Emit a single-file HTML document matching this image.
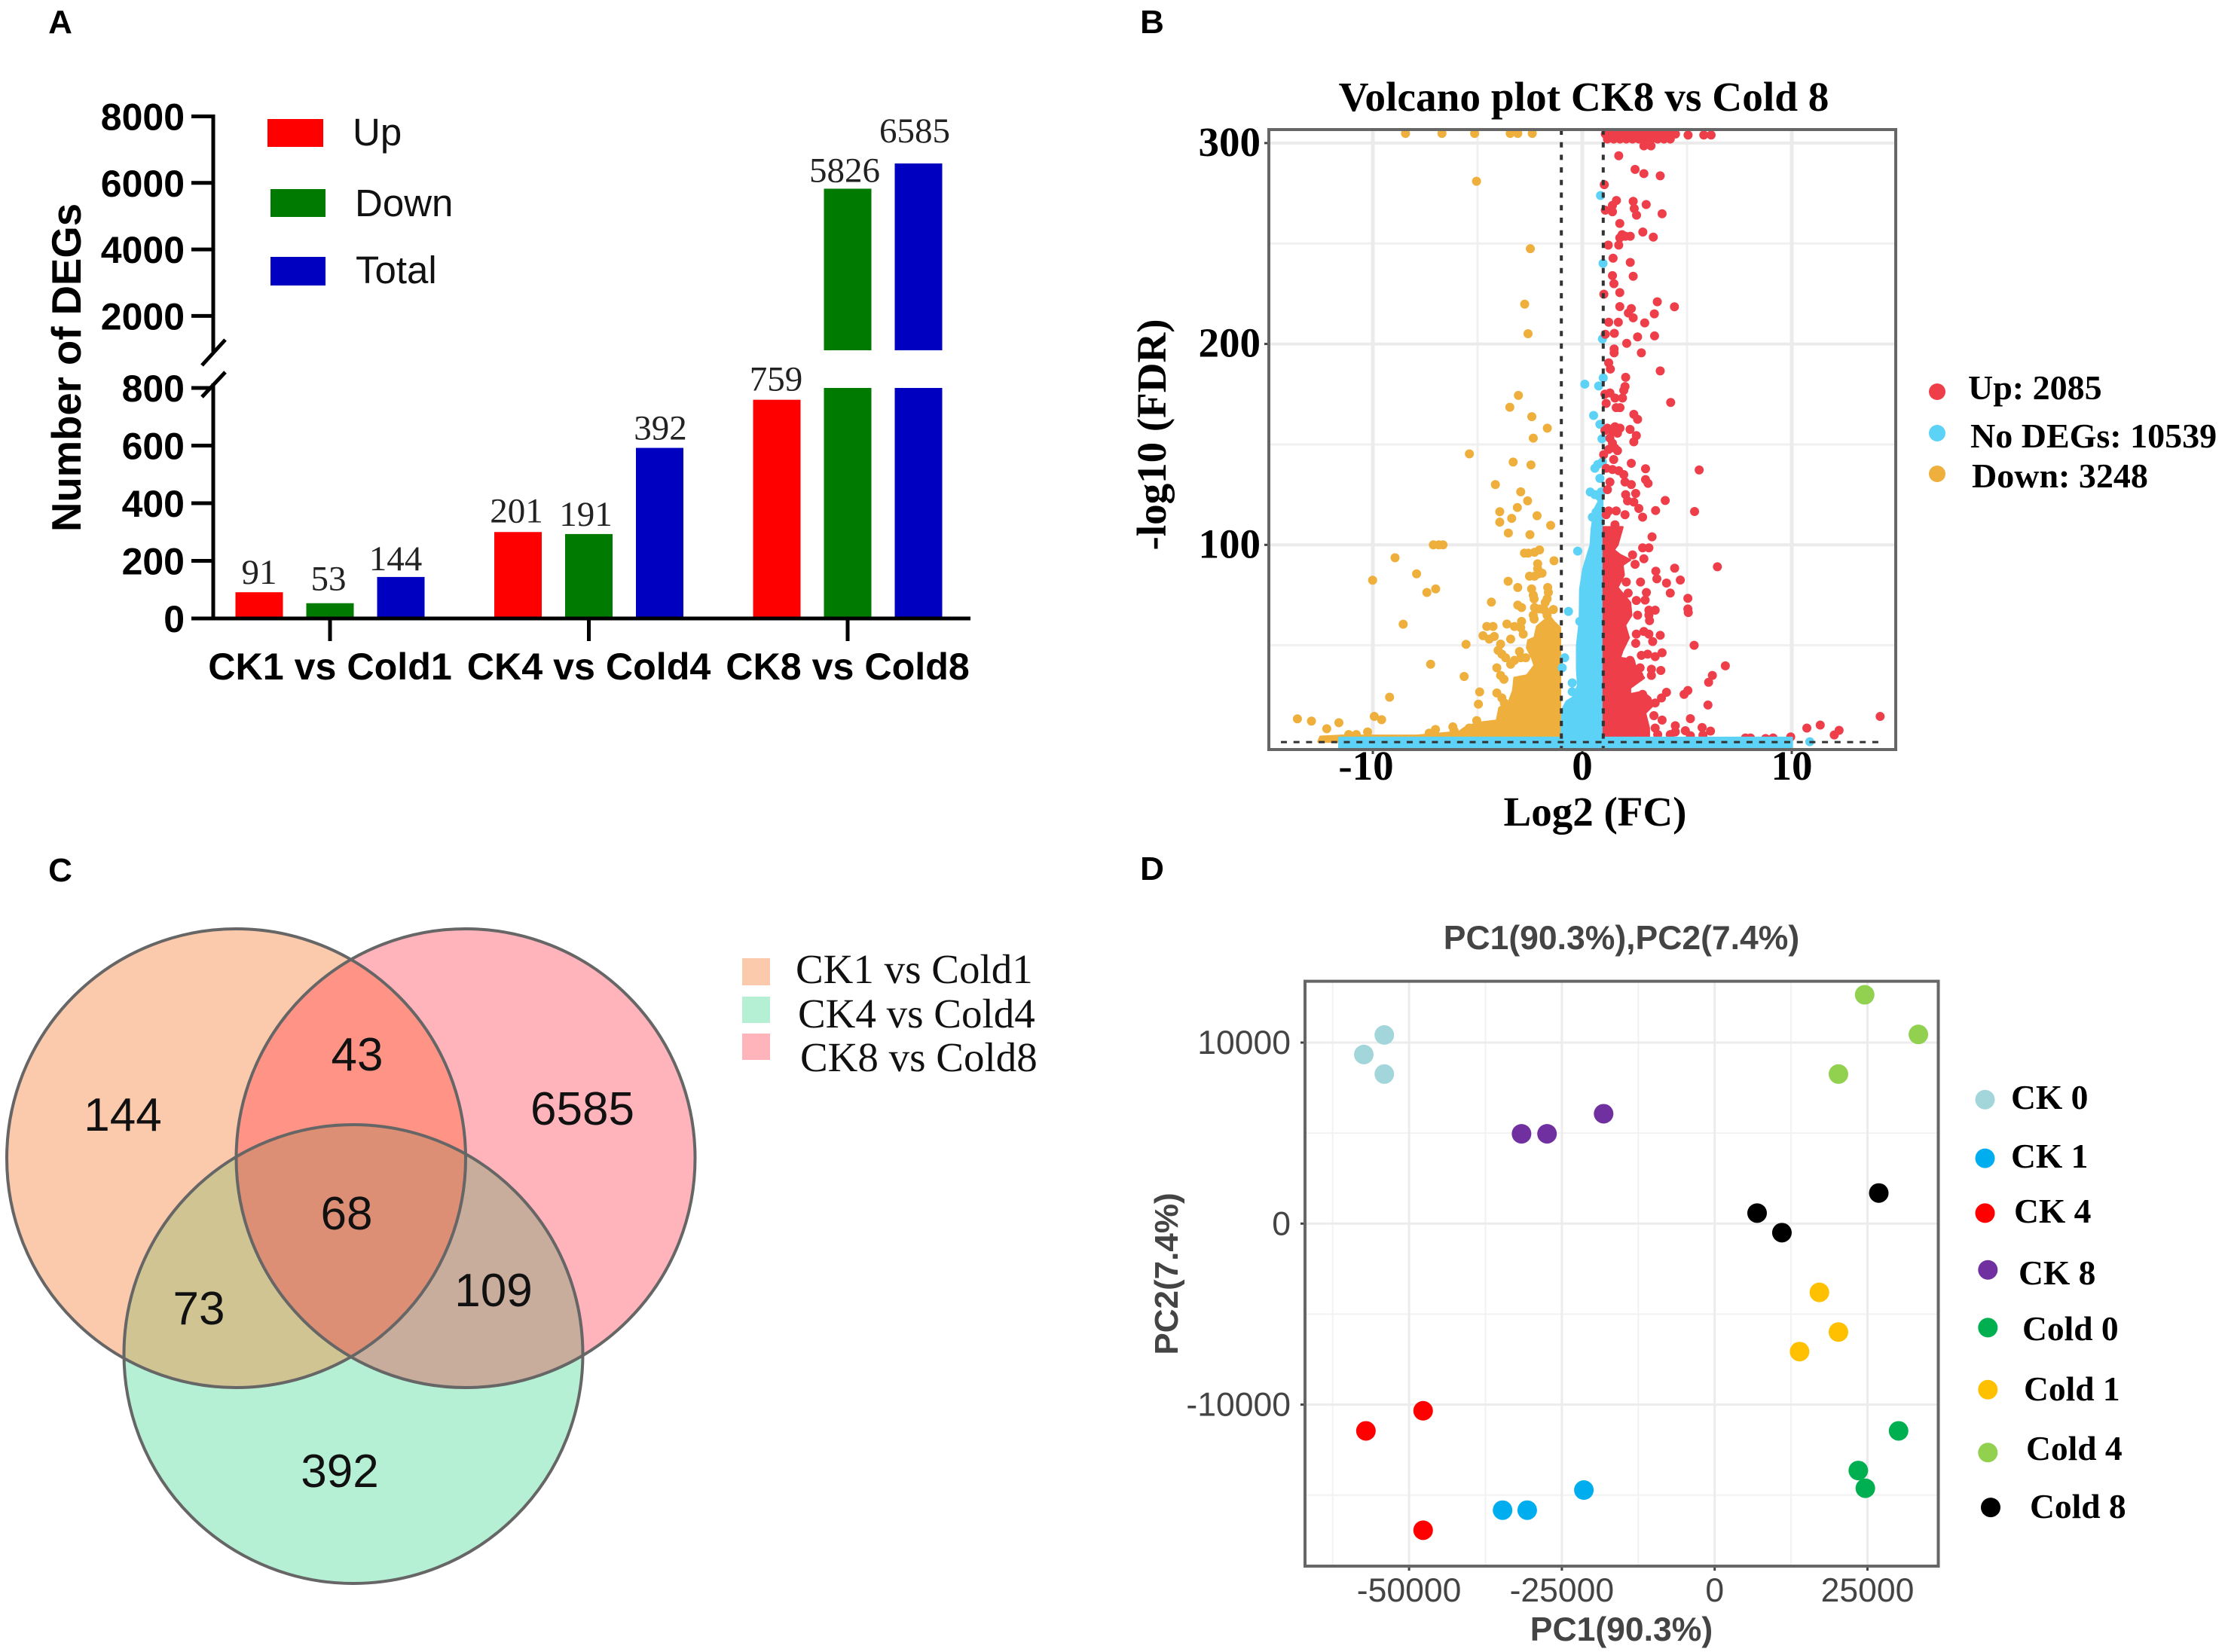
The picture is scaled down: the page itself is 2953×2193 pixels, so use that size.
<!DOCTYPE html>
<html lang="en">
<head>
<meta charset="utf-8">
<title>DEG analysis figure</title>
<style>
html,body{margin:0;padding:0;background:#fff;}
svg{display:block;}
.sans{font-family:"Liberation Sans",sans-serif;}
.serif{font-family:"Liberation Serif",serif;}
.panel-letter{font-family:"Liberation Sans",sans-serif;font-weight:700;font-size:44px;fill:#000;text-anchor:middle;}
</style>
</head>
<body>
<svg id="fig" xmlns="http://www.w3.org/2000/svg" width="2953" height="2193" viewBox="0 0 2953 2193">
  <defs>
    <clipPath id="clip-volcano"><rect x="1684" y="172" width="832" height="823"/></clipPath>
    <clipPath id="clip-v1"><circle cx="313.5" cy="1537.5" r="304.5"/></clipPath>
    <clipPath id="clip-v2"><circle cx="618" cy="1537.5" r="304.5"/></clipPath>
  </defs>
  <rect x="0" y="0" width="2953" height="2193" fill="#fff"/>

  <text class="panel-letter" x="80" y="44">A</text>
  <text class="panel-letter" x="1529" y="44">B</text>
  <text class="panel-letter" x="80" y="1170">C</text>
  <text class="panel-letter" x="1529" y="1168">D</text>

  <!-- Panel A -->
  <g id="panel-a"></g>
  <text class="sans" transform="translate(107,488) rotate(-90)" text-anchor="middle" font-size="54.5" font-weight="700">Number of DEGs</text>
  <rect x="355" y="158" width="74" height="37" fill="#fe0000"/>
  <text class="sans" x="468" y="193" font-size="51" fill="#111">Up</text>
  <rect x="359" y="251" width="73" height="37" fill="#007a00"/>
  <text class="sans" x="471" y="287" font-size="51" fill="#111">Down</text>
  <rect x="359" y="341" width="73" height="38" fill="#0000c0"/>
  <text class="sans" x="472" y="376" font-size="51" fill="#111">Total</text>

  <!-- Panel B -->
  <g id="panel-b"></g>
  <text class="serif" x="2102" y="147" text-anchor="middle" font-size="55.3" font-weight="700">Volcano plot CK8 vs Cold 8</text>
  <text class="serif" x="2117" y="1096" text-anchor="middle" font-size="55" font-weight="700">Log2 (FC)</text>
  <text class="serif" transform="translate(1547,577) rotate(-90)" text-anchor="middle" font-size="55" font-weight="700">-log10 (FDR)</text>
  <ellipse cx="2571" cy="520" rx="11" ry="11" fill="#ee3e4a"/>
  <text class="serif" x="2612" y="530" font-size="46" font-weight="700">Up: 2085</text>
  <ellipse cx="2571" cy="575" rx="11" ry="11" fill="#5cd2f6"/>
  <text class="serif" x="2615" y="594" font-size="46" font-weight="700">No DEGs: 10539</text>
  <ellipse cx="2571" cy="629" rx="11" ry="11" fill="#eeaf3c"/>
  <text class="serif" x="2617" y="647" font-size="46" font-weight="700">Down: 3248</text>

  <!-- Panel C -->
  <g>
    <circle cx="313.5" cy="1537.5" r="304.5" fill="#fbc9ac"/>
    <circle cx="618" cy="1537.5" r="304.5" fill="#ffb3bb"/>
    <circle cx="469" cy="1797.5" r="304.5" fill="#b5f0d5"/>
    <circle cx="618" cy="1537.5" r="304.5" fill="#ff9486" clip-path="url(#clip-v1)"/>
    <circle cx="469" cy="1797.5" r="304.5" fill="#cfc492" clip-path="url(#clip-v1)"/>
    <circle cx="469" cy="1797.5" r="304.5" fill="#c8ac9c" clip-path="url(#clip-v2)"/>
    <g clip-path="url(#clip-v1)"><circle cx="469" cy="1797.5" r="304.5" fill="#dc8f74" clip-path="url(#clip-v2)"/></g>
    <g fill="none" stroke="#666" stroke-width="4">
      <circle cx="313.5" cy="1537.5" r="304.5"/>
      <circle cx="618" cy="1537.5" r="304.5"/>
      <circle cx="469" cy="1797.5" r="304.5"/>
    </g>
    <g class="sans" font-size="62" text-anchor="middle" fill="#111">
      <text x="163" y="1501">144</text>
      <text x="474" y="1421">43</text>
      <text x="773" y="1493">6585</text>
      <text x="460" y="1632">68</text>
      <text x="264" y="1758">73</text>
      <text x="655" y="1734">109</text>
      <text x="451" y="1974">392</text>
    </g>
    <rect x="985" y="1272" width="37" height="36" fill="#fbc9ac"/>
    <text class="serif" x="1056" y="1305" font-size="55" fill="#111">CK1 vs Cold1</text>
    <rect x="985" y="1323" width="37" height="35" fill="#b5f0d5"/>
    <text class="serif" x="1059" y="1364" font-size="55" fill="#111">CK4 vs Cold4</text>
    <rect x="985" y="1372" width="37" height="35" fill="#ffb3bb"/>
    <text class="serif" x="1062" y="1422" font-size="55" fill="#111">CK8 vs Cold8</text>
  </g>

  <!-- Panel D -->
  <g id="panel-d"></g>
  <text class="sans" x="2152" y="1260" text-anchor="middle" font-size="44.5" font-weight="700" fill="#444">PC1(90.3%),PC2(7.4%)</text>
  <text class="sans" x="2152" y="2178" text-anchor="middle" font-size="44.5" font-weight="700" fill="#444">PC1(90.3%)</text>
  <text class="sans" transform="translate(1563,1691) rotate(-90)" text-anchor="middle" font-size="44" font-weight="700" fill="#444">PC2(7.4%)</text>
</svg>

<script>
/* ---------- Panel A data ---------- */
const barCategories = ['CK1 vs Cold1', 'CK4 vs Cold4', 'CK8 vs Cold8'];
const upValues = [91, 300, 759];
const downValues = [53, 293, 5826];
const totalValues = [144, 592, 6585];
const upLabels = ['91', '201', '759'];
const downLabels = ['53', '191', '5826'];
const totalLabels = ['144', '392', '6585'];
const lowerTicks = [0, 200, 400, 600, 800];
const upperTicks = [2000, 4000, 6000, 8000];

/* ---------- Panel B data ---------- */
const volcanoXTicks = [-10, 0, 10];
const volcanoYTicks = [100, 200, 300];
const volcanoXMinor = [-5, 5];
const volcanoYMinor = [50, 150, 250];
const foldThreshold = [-1, 1];
const fdrThreshold = [2];
const downDense = [[-1.06,58.8],[-1.32,61.3],[-1.56,64.4],[-1.8,62.5],[-2.16,59.4],[-2.28,53.8],[-2.58,52.5],[-2.64,48.8],[-2.4,43.8],[-2.28,40],[-2.64,35],[-3.24,33.8],[-3.3,27.5],[-3.48,22.5],[-3.96,18.8],[-4.08,12.5],[-5.04,11.3],[-5.64,8.8],[-5.88,6.9],[-7.91,5],[-11.51,5],[-12.5,4.5],[-12.6,2],[-1.06,2]];
const noDegDense = [[0.96,125],[0.6,118],[0.45,108],[0.4,100],[0.05,88],[-0.1,78],[-0.12,62],[-0.25,50],[-0.25,38],[-0.2,30],[-0.45,24],[-0.75,22],[-0.95,18],[-1,3],[0.96,3]];
const noDegShelf = [[-11.6,4],[10,4],[10,-0.8],[-11.6,-0.8]];
const upDense = [[1.02,108.8],[1.92,108.8],[1.68,100],[1.5,97.5],[1.8,95],[2.28,92.5],[1.92,90],[1.98,85],[1.68,78.8],[2.28,71.3],[2.34,65],[2.04,60],[2.22,53.8],[1.92,47.5],[1.8,43.8],[2.46,42.5],[2.52,40],[2.94,33.8],[2.28,28.8],[2.28,25.6],[2.88,26.9],[3.24,23.8],[3.36,20],[3,16.3],[3.18,8.8],[3.18,4],[1.02,4]];
const downPoints = [
[-8.44,304.8],[-6.7,304.8],[-5.14,304.8],[-3.44,304.8],[-3.08,304.8],[-2.39,304.8],[-5.05,281],[-2.48,247.4],[-2.75,219.8],[-2.59,205.1],
[-3.05,174.4],[-3.46,168.5],[-2.41,163.8],[-1.67,158.1],[-2.34,153.1],[-5.39,145.3],[-3.3,141.2],[-2.45,139.8],[-4.15,130],[-2.94,126.4],
[-2.61,121.9],[-3.1,118.6],[-3.94,116.5],[-3.37,113.2],[-2.16,114.5],[-3.94,111.3],[-1.51,109.7],[-3.53,105.9],[-2.5,105.1],[-7.11,100],[-6.85,100],[-6.65,100],
[-8.94,93.6],[-7.91,85.6],[-10.01,82.4],[-7,78.1],[-7.42,76.3],[-8.55,60.5],[-7.24,40.6],[-5.64,34.5],[-5.55,50.5],
[-4.9,26.8],[-4.96,20.7],[-9.2,24.2],[-9.93,14.6],[-9.58,13],[-13.6,13.4],[-12.93,12.3],[-11.62,11.5],[-12.2,8.5],
[-2.04,97.5],[-2.28,96.3],[-2.58,95.9],[-2.76,95.9],[-1.35,92.1],[-2.13,90.6],[-2.13,88.1],[-2.1,85.6],[-2.28,84.4],[-2.52,84.4],[-1.92,85.9],
[-3.54,81.9],[-3.08,78.8],[-2.42,78.1],[-2.34,75],[-2.3,73.1],[-1.65,78.8],[-1.62,76.3],[-1.68,73.1],[-1.77,71.3],[-4.34,71.5],[-3.08,70],[-2.9,68.8],
[-2.28,68.8],[-2.04,68.1],[-1.8,67.5],[-1.38,67.8],[-2.34,65],[-2.3,63.1],[-1.68,65],[-3.6,60.6],[-3.24,59.4],[-2.9,61.9],[-2.94,58.8],[-2.82,55.6],
[-4.56,59.4],[-4.26,59.4],[-4.74,54.8],[-4.44,53.1],[-4.2,54.4],[-3.42,53.1],[-3.9,50.6],[-4.02,47.5],[-3.84,45.6],[-3.66,43.8],[-3.42,40.6],[-3.24,42.5],
[-3,46.9],[-2.94,43.8],[-2.7,43.8],[-4.08,38.8],[-3.9,35],[-3.74,33.1],[-4.08,26.3],[-3.84,23.8],[-3.72,21.3],[-5.04,12.5],[-6.18,9.4],[-7.01,8.1],[-7.31,6.3],
[-6.12,7.5],[-5.4,8.8],[-10.25,6.9],[-10.79,5.6],[-11.15,5.6]
];
const noDegPoints = [
[0.87,273.9],[0.99,240.1],[0.96,202.5],[1,183.1],[0.12,180],[0.78,179.1],[0.54,164.4],[0.84,160],[0.94,152.8],[0.74,140],[0.6,138.1],[0.96,141.3],[0.84,133.1],
[0.38,126.3],[0.6,125],[0.84,123.8],[0.9,126.3],[0.66,116.3],[0.48,113.8],[0.72,110],[0.96,116.3],
[-0.22,96.9],[-0.66,66.9],[-0.12,61.9],[-0.84,43.8],[-0.96,38.8],[-0.48,31.3],[-0.48,26.9],[10.86,2]
];
const upPoints = [
[1.1,304.5],[1.3,304.5],[1.5,304.5],[1.7,304.5],[1.9,304.5],[2.1,304.5],[2.3,304.5],[2.5,304.5],[2.7,304.5],[2.9,304.5],[3.1,304.5],[3.3,304.5],[3.5,304.5],[3.7,304.5],[3.9,304.5],[4.1,304.5],[4.3,304.5],[4.45,304.5],
[1.2,302],[1.5,302],[1.8,302],[2.1,302],[2.4,302],[2.7,302],[3,302],[3.3,302],[3.6,302],[3.9,302],[4.2,302],
[5.05,304],[5.8,304],[6.15,304],[2.94,298.6],[3.28,298.6],[1.74,293.7],[2.52,286.9],[2.94,284.8],[3.72,283.7],[1.05,279.3],[1.63,271.4],[1.44,269],[1.1,266.6],[1.44,265.8],
[2.43,271],[2.48,267.4],[2.59,264.1],[3.05,269.4],[3.81,264.8],[1.79,260],[1.9,254.4],[1.79,252.8],[2.06,253.6],[2.29,253.6],[2.89,255.7],[3.39,253.2],[1.24,249.2],[1.74,249.2],
[1.47,242.7],[2.29,240.6],[2.43,233.7],[1.44,234],[1.51,230],[1.79,225.6],[1.03,224.8],[3.58,221],[4.4,218.5],[1.79,218.6],[2.34,217.6],[2.2,215.4],[2.43,213],[3.44,215],[2.98,210.5],
[1.26,210.8],[1.72,210.8],[1.53,205.3],[1.1,204.8],[2.64,203.5],[3.45,204],[2.12,200.3],[1.52,197.5],[1.52,195.6],[2.82,195.6],[1.26,190.6],[1.34,187.5],[3.72,186.6],[2.07,183.4],
[2.04,178.8],[1.98,176.9],[1.32,175.6],[1.08,175],[1.56,173.1],[1.92,173.1],[4.22,170.9],[1.14,170.4],[1.62,168.3],[1.8,168.3],[2.46,165],[2.64,162.5],
[1.56,158.8],[1.2,158.1],[1.8,158.1],[1.44,156.3],[1.08,156.9],[1.68,155.6],[2.28,157.5],[2.58,154.4],[2.46,151.3],[1.32,153.1],[1.44,150.6],[1.56,148.1],[1.26,147.5],[1.68,146.9],
[1.02,144.9],[1.5,142.5],[2.34,140.6],[3.02,137.9],[5.58,137.3],[1.14,138.1],[1.44,137.5],[1.74,136.9],[1.98,135],[2.04,131.3],[2.34,130],[1.32,131.3],[1.2,127.5],[3.02,132.5],[3.14,130.6],
[2.07,125],[2.55,125.6],[2.16,121.9],[2.46,121.3],[3.96,122.1],[2.7,118.1],[3.5,117.1],[5.36,116.6],[1.26,116.9],[1.62,116.9],[2.04,115],[2.88,113.8],[1.14,115],[1.56,110],
[3.33,104],[2.88,98.5],[3.18,98.5],[2.4,95],[2.94,93.1],[2.52,90.3],[4.41,88.4],[6.45,89.1],[3.51,86.9],[3.56,83.1],[2.1,81.5],[2.78,81.5],[4.02,81],[4.68,82.5],
[2.19,76],[3.06,76.3],[4.2,76],[2.58,72.3],[3,72.5],[5.04,73.4],[5.04,68.1],[5.06,66.3],[3.18,67.5],[3.48,67.5],[2.64,65],[3.18,65],[3.21,62.3],
[2.58,55.6],[2.94,56.9],[3.18,55.6],[3.72,55],[3.36,51.9],[2.55,51],[5.34,50],[2.82,45],[3.12,45.6],[3.48,44.4],[3.81,46.3],[2.28,42.5],[6.83,39.8],
[2.76,38.8],[3.3,38.1],[3.3,35],[3.75,37.5],[2.7,35],[6.21,35],[6.03,31.6],[4.02,26.6],[3.78,23.8],[5.04,27.5],[4.86,25.6],[2.88,25.6],[3.48,21.3],[6,20.3],
[5.16,13.5],[3.81,12.8],[3.42,15],[4.44,10],[4.92,7.5],[5.72,9.1],[6.12,7.3],[4.2,5.6],[3.48,8.8],[3.6,5.6],[5.16,5],[5.76,5.3],[4.44,6.9],
[14.22,14.6],[10.72,8.8],[11.36,10.3],[12.26,7.7],[12.03,5.4],[7.79,3.9],[8.03,3.9],[8.75,3.6],[9.11,3.9],[9.95,4.4]
];

/* ---------- Panel D data ---------- */
const pcaXTicks = [-50000, -25000, 0, 25000];
const pcaYTicks = [10000, 0, -10000];
const pcaXMinor = [-62500, -37500, -12500, 12500];
const pcaYMinor = [5000, -5000, -15000];
const pcaGroups = ['CK 0', 'CK 1', 'CK 4', 'CK 8', 'Cold 0', 'Cold 1', 'Cold 4', 'Cold 8'];
const ck0Scores = [[-54050,10420],[-57400,9340],[-54050,8260]];
const ck1Scores = [[-21400,-14720],[-34700,-15830],[-30670,-15830]];
const ck4Scores = [[-47700,-10340],[-57060,-11450],[-47700,-16940]];
const ck8Scores = [[-18170,6070],[-31600,4960],[-27430,4960]];
const cold0Scores = [[30090,-11450],[23500,-13640],[24650,-14620]];
const cold1Scores = [[17130,-3800],[20250,-5990],[13890,-7070]];
const cold4Scores = [[24540,12640],[33330,10450],[20250,8260]];
const cold8Scores = [[26850,1690],[6940,580],[11000,-500]];

const NS = 'http://www.w3.org/2000/svg';
function svgEl(tag, attrs, parent, text) {
  const el = document.createElementNS(NS, tag);
  for (const k in attrs) el.setAttribute(k, attrs[k]);
  if (text !== undefined) el.textContent = text;
  parent.appendChild(el);
  return el;
}

/* ---------- Panel A drawing ---------- */
(function () {
  const g = document.getElementById('panel-a');
  const lowerZero = 821, lowerScale = 0.3825;
  const upperRef = 419.4, upperScale = 0.04415;
  const yLower = v => lowerZero - v * lowerScale;
  const yUpper = v => upperRef - (v - 2000) * upperScale;
  const yValue = v => (v <= 800 ? yLower(v) : yUpper(v));
  const groupX = i => 438 + i * 343.5;
  const seriesList = [
    { key: 'up', vals: upValues, labels: upLabels, color: '#fe0000', off: -94 },
    { key: 'down', vals: downValues, labels: downLabels, color: '#007a00', off: 0 },
    { key: 'total', vals: totalValues, labels: totalLabels, color: '#0000c0', off: 94 }
  ];
  const labelNudgeX = { up: [0, -2, -1], down: [-2, -4, -4], total: [-7, 1, -5] };
  const labelNudgeY = { up: [0, -2, -1], down: [-6, 0, 2], total: [2, 0, -17] };
  const barWidth = 63;
  seriesList.forEach(s => {
    s.vals.forEach((v, i) => {
      const cx = groupX(i) + s.off;
      const x = cx - barWidth / 2;
      if (v <= 800) {
        const bar = svgEl('rect', { x: x, y: yLower(v), width: barWidth, height: lowerZero - yLower(v), fill: s.color }, g);
        
        
      } else {
        const lower = svgEl('rect', { x: x, y: yLower(800), width: barWidth, height: lowerZero - yLower(800), fill: s.color }, g);
        
        
        const upper = svgEl('rect', { x: x, y: yUpper(v), width: barWidth, height: 465 - yUpper(v), fill: s.color }, g);
        
        
      }
      const lab = svgEl('text', {
        x: cx + labelNudgeX[s.key][i], y: yValue(v) - 11 + labelNudgeY[s.key][i],
        'text-anchor': 'middle', 'font-size': 47, fill: '#222',
        'font-family': '"Liberation Serif",serif'
      }, g, s.labels[i]);
      
      
    });
  });
  const upperAxis = svgEl('line', { x1: 283, x2: 283, y1: yUpper(8000) - 2.5, y2: 467, stroke: '#000', 'stroke-width': 5 }, g);
  
  
  const lowerAxis = svgEl('line', { x1: 283, x2: 283, y1: 509, y2: lowerZero, stroke: '#000', 'stroke-width': 5 }, g);
  
  
  const xAxis = svgEl('line', { x1: 254, x2: 1288, y1: lowerZero, y2: lowerZero, stroke: '#000', 'stroke-width': 5 }, g);
  
  
  const slashA = svgEl('line', { x1: 268, y1: 485, x2: 299, y2: 451, stroke: '#000', 'stroke-width': 5 }, g);
  
  
  const slashB = svgEl('line', { x1: 268, y1: 527, x2: 299, y2: 494, stroke: '#000', 'stroke-width': 5 }, g);
  
  
  function yTick(v, y) {
    const t = svgEl('line', { x1: 254, x2: 283, y1: y, y2: y, stroke: '#000', 'stroke-width': 5 }, g);
    
    
    const l = svgEl('text', { x: 245, y: y + 18, 'text-anchor': 'end', 'font-size': 50, 'font-weight': 700, 'font-family': '"Liberation Sans",sans-serif' }, g, String(v));
    
    
  }
  lowerTicks.forEach(v => yTick(v, yLower(v)));
  upperTicks.forEach(v => yTick(v, yUpper(v)));
  barCategories.forEach((c, i) => {
    const t = svgEl('line', { x1: groupX(i), x2: groupX(i), y1: lowerZero, y2: 851, stroke: '#000', 'stroke-width': 5 }, g);
    
    
    const l = svgEl('text', { x: groupX(i), y: 902, 'text-anchor': 'middle', 'font-size': 50.2, 'font-weight': 700, 'font-family': '"Liberation Sans",sans-serif' }, g, c);
    
    
  });
})();

/* ---------- Panel B drawing ---------- */
(function () {
  const g = document.getElementById('panel-b');
  const xV = v => 2100 + 27.8 * v;
  const yV = v => 990 - 2.667 * v;
  const L = 1684, R = 2516, T = 172, B = 995;
  const serif = '"Liberation Serif",serif';
  volcanoYMinor.forEach(v => {
    const l = svgEl('line', { x1: L, x2: R, y1: yV(v), y2: yV(v), stroke: '#f0f0f0', 'stroke-width': 3 }, g);
    
    
  });
  volcanoXMinor.forEach(v => {
    const l = svgEl('line', { x1: xV(v), x2: xV(v), y1: T, y2: B, stroke: '#f0f0f0', 'stroke-width': 3 }, g);
    
    
  });
  volcanoYTicks.forEach(v => {
    const l = svgEl('line', { x1: L, x2: R, y1: yV(v), y2: yV(v), stroke: '#ebebeb', 'stroke-width': 4 }, g);
    
    
    const t = svgEl('line', { x1: L - 6, x2: L, y1: yV(v), y2: yV(v), stroke: '#444', 'stroke-width': 3 }, g);
    
    
    const s = svgEl('text', { x: 1673, y: yV(v) + 17, 'text-anchor': 'end', 'font-size': 55, 'font-weight': 700, 'font-family': serif }, g, String(v));
    
    
  });
  volcanoXTicks.forEach(v => {
    const l = svgEl('line', { x1: xV(v), x2: xV(v), y1: T, y2: B, stroke: '#ebebeb', 'stroke-width': 5 }, g);
    
    
    const t = svgEl('line', { x1: xV(v), x2: xV(v), y1: B, y2: B + 6, stroke: '#444', 'stroke-width': 3 }, g);
    
    
    const s = svgEl('text', { x: xV(v) + (v < 0 ? -9 : 0), y: 1035, 'text-anchor': 'middle', 'font-size': 55, 'font-weight': 700, 'font-family': serif }, g, String(v));
    
    
  });
  const marks = svgEl('g', { 'clip-path': 'url(#clip-volcano)' }, g);
  
  
  const toPts = arr => arr.map(p => xV(p[0]) + ',' + yV(p[1])).join(' ');
  function cloud(arr, color, name) {
    const p = svgEl('polygon', { points: toPts(arr), fill: color, stroke: color, 'stroke-width': 3, 'stroke-linejoin': 'round' }, marks);
    
    
  }
  function dots(arr, color, name) {
    arr.forEach((p, i) => {
      const c = svgEl('circle', { cx: xV(p[0]), cy: yV(p[1]), r: 6, fill: color }, marks);
      
      
    });
  }
  cloud(downDense, '#eeaf3c', 'down-dense-cloud');
  dots(downPoints, '#eeaf3c', 'down-point');
  cloud(noDegDense, '#5cd2f6', 'no-deg-dense-cloud');
  dots(noDegPoints, '#5cd2f6', 'no-deg-point');
  cloud(upDense, '#ee3e4a', 'up-dense-cloud');
  dots(upPoints, '#ee3e4a', 'up-point');
  cloud(noDegShelf, '#5cd2f6', 'no-deg-baseline-band');
  foldThreshold.forEach(v => {
    const l = svgEl('line', { x1: xV(v), x2: xV(v), y1: T, y2: B, stroke: '#333', 'stroke-width': 4, 'stroke-dasharray': '7 9.7' }, g);
    
    
  });
  fdrThreshold.forEach(v => {
    const l = svgEl('line', { x1: 1700, x2: 2495, y1: yV(v) + 0.5, y2: yV(v) + 0.5, stroke: '#333', 'stroke-width': 3, 'stroke-dasharray': '8 8.7' }, g);
    
    
  });
  const frame = svgEl('rect', { x: L, y: T, width: R - L, height: B - T, fill: 'none', stroke: '#666', 'stroke-width': 4 }, g);
  
  
})();

/* ---------- Panel D drawing ---------- */
(function () {
  const g = document.getElementById('panel-d');
  const xP = v => 2275.7 + v * 202.8 / 25000;
  const yP = v => 1624.3 - v * 240.3 / 10000;
  const L = 1732, R = 2572.5, T = 1302.6, B = 2079;
  const sans = '"Liberation Sans",sans-serif';
  const serif = '"Liberation Serif",serif';
  pcaXMinor.forEach(v => {
    const l = svgEl('line', { x1: xP(v), x2: xP(v), y1: T, y2: B, stroke: '#f2f2f2', 'stroke-width': 2 }, g);
    
    
  });
  pcaYMinor.forEach(v => {
    const l = svgEl('line', { x1: L, x2: R, y1: yP(v), y2: yP(v), stroke: '#f2f2f2', 'stroke-width': 2 }, g);
    
    
  });
  pcaXTicks.forEach(v => {
    const l = svgEl('line', { x1: xP(v), x2: xP(v), y1: T, y2: B, stroke: '#ececec', 'stroke-width': 3 }, g);
    
    
    const t = svgEl('line', { x1: xP(v), x2: xP(v), y1: B, y2: B + 6, stroke: '#444', 'stroke-width': 3 }, g);
    
    
    const s = svgEl('text', { x: xP(v), y: 2126, 'text-anchor': 'middle', 'font-size': 44.5, fill: '#444', 'font-family': sans }, g, String(v));
    
    
  });
  pcaYTicks.forEach(v => {
    const l = svgEl('line', { x1: L, x2: R, y1: yP(v), y2: yP(v), stroke: '#ececec', 'stroke-width': 3 }, g);
    
    
    const t = svgEl('line', { x1: L - 6, x2: L, y1: yP(v), y2: yP(v), stroke: '#444', 'stroke-width': 3 }, g);
    
    
    const s = svgEl('text', { x: 1713, y: yP(v) + 15, 'text-anchor': 'end', 'font-size': 44.5, fill: '#444', 'font-family': sans }, g, String(v));
    
    
  });
  const frame = svgEl('rect', { x: L, y: T, width: R - L, height: B - T, fill: 'none', stroke: '#666', 'stroke-width': 4 }, g);
  
  
  const groupScores = [ck0Scores, ck1Scores, ck4Scores, ck8Scores, cold0Scores, cold1Scores, cold4Scores, cold8Scores];
  const groupColors = ['#a3d6db', '#00aeef', '#ff0000', '#7030a0', '#00b050', '#ffc000', '#92d050', '#000000'];
  const legendDotX = [2634.5, 2634.5, 2634.5, 2638.3, 2638.3, 2638.3, 2638.3, 2642];
  const legendDotY = [1459.7, 1537.6, 1610.4, 1685.7, 1762.4, 1844.7, 1928.3, 2001.1];
  const legendTextX = [2669, 2669, 2673, 2679, 2684, 2686, 2689, 2694];
  const legendTextY = [1472, 1550, 1623, 1705, 1779, 1859, 1938, 2015];
  pcaGroups.forEach((name, i) => {
    groupScores[i].forEach((p, j) => {
      const c = svgEl('circle', { cx: xP(p[0]), cy: yP(p[1]), r: 13, fill: groupColors[i] }, g);
      
      
    });
    const d = svgEl('circle', { cx: legendDotX[i], cy: legendDotY[i], r: 13, fill: groupColors[i] }, g);
    
    
    const t = svgEl('text', { x: legendTextX[i], y: legendTextY[i], 'font-size': 45.5, 'font-weight': 700, 'font-family': serif }, g, name);
    
    
  });
})();
</script>
</body>
</html>
